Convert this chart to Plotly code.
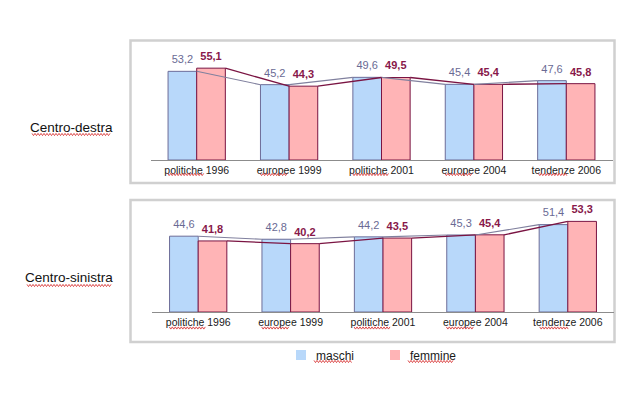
import plotly.graph_objects as go

categories = ["politiche 1996", "europee 1999", "politiche 2001", "europee 2004", "tendenze 2006"]
panels = ["Centro-destra", "Centro-sinistra"]
cd_maschi = [53.2, 45.2, 49.6, 45.4, 47.6]
cd_femmine = [55.1, 44.3, 49.5, 45.4, 45.8]
cs_maschi = [44.6, 42.8, 44.2, 45.3, 51.4]
cs_femmine = [41.8, 40.2, 43.5, 45.4, 53.3]
series_names = ["maschi", "femmine"]

# page has an 8px body margin
OFF = 8
W, H = 641 - 2 * OFF, 394 - 2 * OFF
def px(x):
    return (x - OFF) / W
def py(y):
    return 1 - (y - OFF) / H

BLUE_FILL = "#b8d8fa"
BLUE_LINE = "#6c6c98"
PINK_FILL = "#ffb4b6"
PINK_LINE = "#7a1442"
BLUE_TXT = "#6a6a94"
PINK_TXT = "#88184a"
SQUIG = "#d83a3a"
FONT = "Liberation Sans, Arial, sans-serif"

bw = 0.31
fig = go.Figure()

def fmt(v):
    return f"{v:.1f}".replace(".", ",")

def series_line(vals, c):
    xs, ys = [], []
    for i in range(len(vals) - 1):
        xs += [i + c + bw / 2, i + 1 + c - bw / 2, None]
        ys += [vals[i], vals[i + 1], None]
    return xs, ys

panel_data = [(cd_maschi, cd_femmine, "x", "y"), (cs_maschi, cs_femmine, "x2", "y2")]
for m, f, xa, ya in panel_data:
    idx = list(range(len(categories)))
    for vals, c, fill, line, txtc, bold, lc, lw in [
        (m, -bw / 2, BLUE_FILL, BLUE_LINE, BLUE_TXT, False, "#80809e", 1.1),
        (f, bw / 2, PINK_FILL, PINK_LINE, PINK_TXT, True, PINK_LINE, 1.3),
    ]:
        xs = [i + c for i in idx]
        fig.add_trace(go.Bar(
            x=xs, y=vals, width=bw, xaxis=xa, yaxis=ya,
            marker=dict(color=fill, line=dict(color=line, width=1)),
            showlegend=False, hoverinfo="skip",
        ))
        lx, ly = series_line(vals, c)
        fig.add_trace(go.Scatter(
            x=lx, y=ly, mode="lines", xaxis=xa, yaxis=ya,
            line=dict(color=lc, width=lw),
            showlegend=False, hoverinfo="skip", cliponaxis=False,
        ))
        fig.add_trace(go.Scatter(
            x=xs, y=vals, mode="markers+text", xaxis=xa, yaxis=ya,
            marker=dict(size=7, opacity=0),
            text=[fmt(v) for v in vals], textposition="top center",
            textfont=dict(family=FONT, size=11, color=txtc, weight="bold" if bold else "normal"),
            showlegend=False, hoverinfo="skip", cliponaxis=False,
        ))

axis_common = dict(
    range=[-0.5, 4.5], tickmode="array", tickvals=list(range(5)), ticktext=categories,
    showline=True, linecolor="#8c8c8c", linewidth=1, showgrid=False, zeroline=False,
    ticks="", tickfont=dict(family=FONT, size=10.5, color="#1a1a1a"), fixedrange=True,
)
yaxis_common = dict(range=[0, 60], visible=False, fixedrange=True)

def squiggle(x0, x1, y, period=3.0, amp=1.1):
    pts = []
    x = x0
    k = 0
    while x <= x1 + 0.01:
        yy = y + (amp if k % 2 else -amp)
        pts.append(f"{px(x):.5f},{py(yy):.5f}")
        x += period / 2
        k += 1
    path = "M" + " L".join(pts)
    return dict(type="path", xref="paper", yref="paper", path=path,
                line=dict(color=SQUIG, width=0.9), layer="above")

shapes = [
    dict(type="rect", xref="paper", yref="paper", x0=px(130.5), x1=px(614.5), y0=py(183), y1=py(40.5),
         line=dict(color="#d0d0d0", width=2.5), layer="below"),
    dict(type="rect", xref="paper", yref="paper", x0=px(130.5), x1=px(614.5), y0=py(342), y1=py(200),
         line=dict(color="#d0d0d0", width=2.5), layer="below"),
]

# spell-check style underlines under the first word of each tick label
top_centers = [196.7 + 92.4 * i for i in range(5)]
bot_centers = [198.3 + 92.35 * i for i in range(5)]
word_span = {"politiche": (-29, 8), "europee": (-29, -2), "tendenze": (-28, 1)}
for centers, yline in [(top_centers, 174.5), (bot_centers, 328)]:
    for cx, cat in zip(centers, categories):
        a, b = word_span[cat.split()[0]]
        shapes.append(squiggle(cx + a, cx + b, yline))
shapes.append(squiggle(32, 110, 134.5))
shapes.append(squiggle(27, 111, 285.5))

# manual legend
legend_items = [(series_names[0], BLUE_FILL, 296, 314), (series_names[1], PINK_FILL, 390, 408)]
annotations = [
    dict(text=panels[0], xref="paper", yref="paper", x=px(71), y=py(127), showarrow=False,
         font=dict(family=FONT, size=13.5, color="#111111"), xanchor="center", yanchor="middle"),
    dict(text=panels[1], xref="paper", yref="paper", x=px(69), y=py(277.5), showarrow=False,
         font=dict(family=FONT, size=13.5, color="#111111"), xanchor="center", yanchor="middle"),
]
for name, fill, sx, tx in legend_items:
    shapes.append(dict(type="rect", xref="paper", yref="paper", x0=px(sx), x1=px(sx + 10),
                       y0=py(360), y1=py(350), fillcolor=fill, line=dict(width=0)))
    annotations.append(dict(text=name, xref="paper", yref="paper", x=px(tx), y=py(355.5),
                            showarrow=False, xanchor="left", yanchor="middle",
                            font=dict(family=FONT, size=12, color="#1a1a1a")))
shapes.append(squiggle(314, 352, 361.5))
shapes.append(squiggle(408, 453, 361.5))

fig.update_layout(
    width=W, height=H,
    margin=dict(l=0, r=0, t=0, b=0),
    paper_bgcolor="white", plot_bgcolor="rgba(0,0,0,0)",
    barmode="overlay", showlegend=False,
    xaxis=dict(domain=[px(150.5), px(612.5)], anchor="y", **axis_common),
    yaxis=dict(domain=[py(160), py(60)], anchor="x", **yaxis_common),
    xaxis2=dict(domain=[px(152), px(614)], anchor="y2", **axis_common),
    yaxis2=dict(domain=[py(312), py(210)], anchor="x2", **yaxis_common),
    font=dict(family=FONT),
    shapes=shapes,
    annotations=annotations,
)

fig.write_html("out.html")
